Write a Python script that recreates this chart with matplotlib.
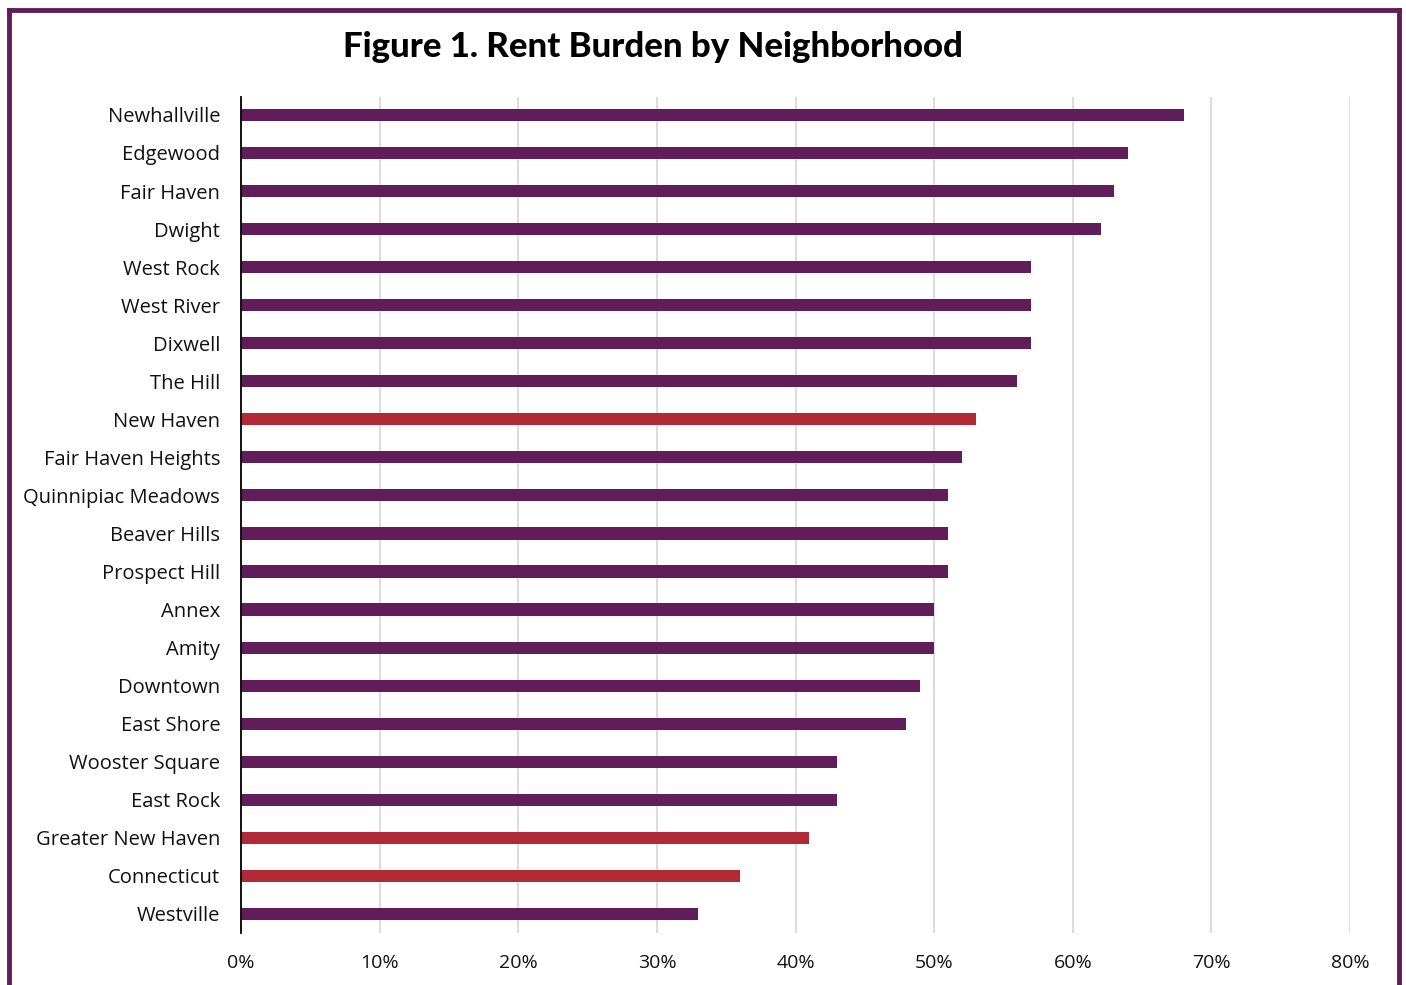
import matplotlib.pyplot as plt
from matplotlib.lines import Line2D
from matplotlib.ticker import PercentFormatter

# --- data ---
neighborhoods = [
    "Newhallville", "Edgewood", "Fair Haven", "Dwight", "West Rock",
    "West River", "Dixwell", "The Hill", "New Haven", "Fair Haven Heights",
    "Quinnipiac Meadows", "Beaver Hills", "Prospect Hill", "Annex", "Amity",
    "Downtown", "East Shore", "Wooster Square", "East Rock",
    "Greater New Haven", "Connecticut", "Westville",
]
rent_burden = [68, 64, 63, 62, 57, 57, 57, 56, 53, 52, 51, 51, 51, 50, 50,
               49, 48, 43, 43, 41, 36, 33]
comparison = ["New Haven", "Greater New Haven", "Connecticut"]

purple = "#611c5a"
red = "#b22a35"
colors = [red if n in comparison else purple for n in neighborhoods]

fig = plt.figure(figsize=(14.06, 9.85), dpi=100)
ax = fig.add_axes([0.1714, 0.0528, 0.7888, 0.8487])

ypos = list(range(len(neighborhoods)))
ax.barh(ypos, rent_burden, height=0.32, color=colors, zorder=3)
ax.set_yticks(ypos)
ax.set_yticklabels(neighborhoods, fontsize=14.5, family="Open Sans", color="#111111")
ax.set_ylim(len(neighborhoods) - 0.5, -0.47)

ax.set_xlim(0, 80)
ax.set_xticks(range(0, 81, 10))
ax.xaxis.set_major_formatter(PercentFormatter(decimals=0))
for lab in ax.get_xticklabels():
    lab.set_family("Open Sans")
    lab.set_fontsize(14)
    lab.set_color("#111111")

ax.tick_params(axis="both", length=0)
ax.tick_params(axis="y", pad=15)
ax.tick_params(axis="x", pad=15)
ax.grid(axis="x", color="#d9d9d9", linewidth=1.3, zorder=0)
for s in ["top", "right", "bottom"]:
    ax.spines[s].set_visible(False)
ax.spines["left"].set_color("black")
ax.spines["left"].set_linewidth(1.3)
ax.spines["left"].set_zorder(4)

fig.text(0.4645, 0.952, "Figure 1. Rent Burden by Neighborhood", ha="center",
         va="center", fontsize=25, fontweight="black", family="Lato", color="black")

# purple frame (top, left, right; bottom runs off the page)
fx0, fx1, fy = 9 / 1406, 1399 / 1406, 1 - 10 / 985
for xs, ys in [([fx0, fx1], [fy, fy]), ([fx0, fx0], [fy, -0.01]), ([fx1, fx1], [fy, -0.01])]:
    fig.add_artist(Line2D(xs, ys, color=purple, linewidth=3.5, transform=fig.transFigure,
                          solid_capstyle="projecting"))

fig.savefig("out.png", dpi=100, facecolor="white")
